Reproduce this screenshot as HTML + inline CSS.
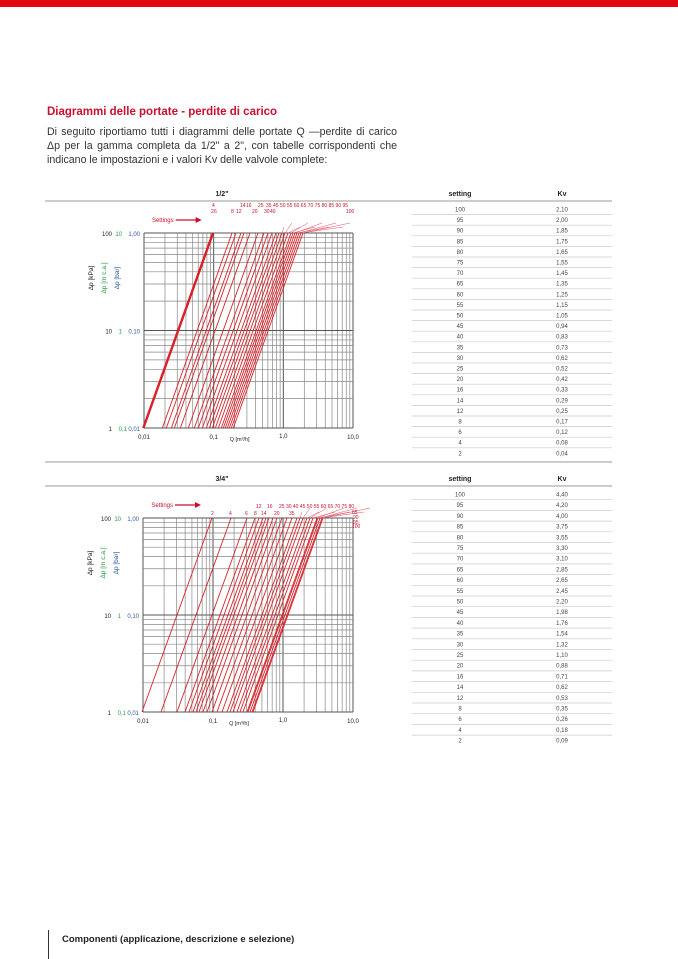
<!DOCTYPE html>
<html><head><meta charset="utf-8">
<style>
body{margin:0;width:678px;height:959px;background:#fff;position:relative;overflow:hidden;font-family:"Liberation Sans",sans-serif;}
.bar{position:absolute;left:0;top:0;width:678px;height:7px;background:#e30613;}
h1{position:absolute;left:47px;top:106px;margin:0;font-size:11.5px;color:#c8102e;font-weight:bold;}
p{position:absolute;left:47px;top:125px;margin:0;width:350px;font-size:10.6px;line-height:14px;color:#333;text-align:justify;}
.foot{position:absolute;left:48px;top:930px;width:1px;height:29px;background:#333;}
.ft{position:absolute;left:62px;top:934px;font-size:9.5px;font-weight:bold;color:#222;}
svg{position:absolute;left:0;top:0;}
</style></head><body>
<div class="bar"></div>
<h1>Diagrammi delle portate - perdite di carico</h1>
<p>Di seguito riportiamo tutti i diagrammi delle portate Q —perdite di carico Δp per la gamma completa da 1/2" a 2", con tabelle corrispondenti che indicano le impostazioni e i valori Kv delle valvole complete:</p>
<svg id="s" width="678" height="959" xmlns="http://www.w3.org/2000/svg"></svg>
<div class="foot"></div>
<div class="ft">Componenti (applicazione, descrizione e selezione)</div>
<script>
var s=document.getElementById('s'),h='';
function L(x1,y1,x2,y2,c,w){h+='<line x1="'+x1+'" y1="'+y1+'" x2="'+x2+'" y2="'+y2+'" stroke="'+c+'" stroke-width="'+w+'"/>';}
function T(x,y,t,sz,c,a,b,extra){h+='<text x="'+x+'" y="'+y+'" font-size="'+sz+'" fill="'+c+'" text-anchor="'+(a||'start')+'" font-weight="'+(b?'bold':'normal')+'" '+(extra||'')+'>'+t+'</text>';}
var settings=[100,95,90,85,80,75,70,65,60,55,50,45,40,35,30,25,20,16,14,12,8,6,4,2];
var kv1=['2,10','2,00','1,85','1,75','1,65','1,55','1,45','1,35','1,25','1,15','1,05','0,94','0,83','0,73','0,62','0,52','0,42','0,33','0,29','0,25','0,17','0,12','0,08','0,04'];
var kv2=['4,40','4,20','4,00','3,75','3,55','3,30','3,10','2,85','2,65','2,45','2,20','1,98','1,76','1,54','1,32','1,10','0,88','0,71','0,62','0,53','0,35','0,26','0,18','0,09'];
function chart(top,x0,x1,y0,y1,title,tops,thick,lab){
 T(222,top+11,title,7,'#222','middle',true);
 L(45,top+16,412,top+16,'#999',1);
 var dx=(x1-x0)/3,dy=(y1-y0)/2;
 for(var d=0;d<3;d++)for(var k=1;k<=9;k++){var x=x0+dx*(d+Math.log10(k));L(x,y0,x,y1,k==1?'#555':'#888',k==1?1:0.7);}
 L(x1,y0,x1,y1,'#555',1);
 for(var d=0;d<2;d++)for(var k=1;k<=9;k++){var y=y1-dy*(d+Math.log10(k));L(x0,y,x1,y,k==1?'#555':'#888',k==1?1:0.7);}
 L(x0,y0,x1,y0,'#555',1);
 for(var i=0;i<tops.length;i++){var w=(i<thick)?2.2:0.9;L(tops[i],y0,tops[i]-dx,y1,'#d8232a',w);}
 var n=tops.length;for(var i=n-10;i<n;i++){L(tops[i],y0,tops[i]+ (i-(n-10))*5+2,y0-6-(i%2)*4,'#e05060',0.5);}
 h+=lab;
 T(x0-4,y0+3,'1,00',6,'#2a5aa0','end');T(x0-22,y0+3,'10',6,'#2a9a40','end');T(x0-32,y0+3,'100',6,'#222','end');
 var ym=(y0+y1)/2;T(x0-4,ym+3,'0,10',6,'#2a5aa0','end');T(x0-22,ym+3,'1',6,'#2a9a40','end');T(x0-32,ym+3,'10',6,'#222','end');
 T(x0-4,y1+3,'0,01',6,'#2a5aa0','end');T(x0-17,y1+3,'0,1',6,'#2a9a40','end');T(x0-32,y1+3,'1',6,'#222','end');
 var yt=y0+45;
 T(0,0,'Δp [kPa]',6.5,'#222','middle',false,'transform="translate('+(x0-51)+','+yt+') rotate(-90)"');
 T(0,0,'Δp [m c.a.]',6.5,'#2a9a40','middle',false,'transform="translate('+(x0-38)+','+yt+') rotate(-90)"');
 T(0,0,'Δp [bar]',6.5,'#2a5aa0','middle',false,'transform="translate('+(x0-25)+','+yt+') rotate(-90)"');
 T(x0,y1+11,'0,01',6,'#222','middle');T(x0+dx,y1+11,'0,1',6,'#222','middle');T(x0+2*dx,y1+10,'1,0',6,'#222','middle');T(x1,y1+11,'10,0',6,'#222','middle');
 T(x0+dx+26,y1+13,'Q [m³/h]',5.5,'#222','middle');
 T(x0+dx-40,y0-11,'Settings',6,'#c8102e','end');L(x0+dx-38,y0-13,x0+dx-15,y0-13,'#c8102e',1.2);
 h+='<polygon points="'+(x0+dx-12)+','+(y0-13)+' '+(x0+dx-18)+','+(y0-16)+' '+(x0+dx-18)+','+(y0-10)+'" fill="#c8102e"/>';
}
function table(top,x0,x1,rowTop,rh,kv){
 T(460,top+11,'setting',7,'#222','middle',true);T(562,top+11,'Kv',7,'#222','middle',true);
 L(412,top+16,612,top+16,'#999',1);
 for(var i=0;i<24;i++){var y=rowTop+i*rh;T(460,y+7.5,settings[i],6,'#444','middle');T(562,y+7.5,kv[i],6,'#444','middle');if(i<23)L(412,y+rh,612,y+rh,'#ccc',0.7);}
}
var t1=[213,213,213,232,236,241,244,250,258,264,268,272,276,279,282,285,288,291,293,295,297,299,301,303];
var lab1='<g font-size="5" fill="#c8102e">'+
 '<text x="211" y="213">2</text><text x="214" y="213">6</text><text x="212" y="207">4</text>'+
 '<text x="231" y="213">8</text><text x="236" y="213">12</text><text x="240" y="207">14</text><text x="246" y="207">16</text><text x="252" y="213">20</text>'+
 '<text x="258" y="207">25</text><text x="264" y="213">30</text><text x="270" y="213">40</text><text x="266" y="207">35</text>'+
 '<text x="273" y="207">45 50 55 60 65 70 75 80 85 90 95</text><text x="346" y="213">100</text></g>';
chart(185,144,353,233,428,'1/2"',t1,3,lab1);
table(185,412,612,204,10.6,kv1);
L(45,462,612,462,'#999',1);
var t2=[212,231,247,255,259,263,266,269,273,277,282,287,292,297,300,303,307,310,313,317,318,320,322,323];
var lab2='<g font-size="5" fill="#c8102e">'+
 '<text x="211" y="515">2</text><text x="229" y="515">4</text><text x="245" y="515">6</text><text x="254" y="515">8</text><text x="261" y="515">14</text><text x="274" y="515">20</text><text x="289" y="515">35</text>'+
 '<text x="256" y="508">12</text><text x="267" y="508">16</text><text x="279" y="508">25 30 40 45 50 55 60 65 70 75 80</text>'+
 '<text x="352" y="514">85</text><text x="353" y="519">90</text><text x="353" y="524">95</text><text x="352" y="528">100</text></g>';
chart(470,143,353,518,712,'3/4"',t2,0,lab2);
table(470,412,612,489,10.7,kv2);
s.innerHTML=h;
</script>
</body></html>
